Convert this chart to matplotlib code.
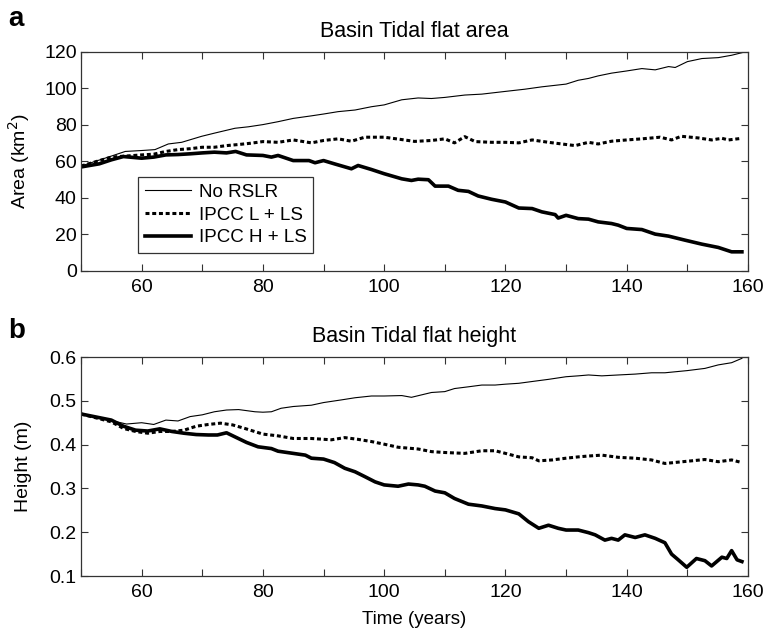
import numpy as np
import matplotlib
matplotlib.use('Agg')
import matplotlib.pyplot as plt
from matplotlib.ticker import MultipleLocator

plt.rcParams['font.family'] = ['Liberation Sans', 'DejaVu Sans']
plt.rcParams['font.size'] = 14

# panel a: tidal flat area (km2)
a_norslr_t = [50, 54.5, 57.3, 60, 62.2, 64.4, 66.6, 69.9, 72.1, 75.4, 77.6, 80, 82.5, 85, 88, 90,
              92.4, 95.2, 97.9, 100, 102.9, 105.6, 107.8, 110, 113.3, 116.1, 120, 123.2, 126, 130,
              132, 133.7, 135.3, 137.5, 140, 142.5, 144.7, 146.9, 148, 150, 152.4, 155.1, 157.3, 159]
a_norslr = [57.5, 62.4, 65.5, 66, 66.5, 69.6, 70.5, 73.8, 75.6, 78.2, 79, 80.2, 81.8, 83.6, 85, 86,
            87.3, 88.2, 90, 91, 93.8, 94.8, 94.5, 95.1, 96.4, 96.9, 98.4, 99.6, 100.9, 102.4,
            104.5, 105.5, 106.9, 108.4, 109.6, 110.9, 110.2, 112, 111.5, 114.7, 116.4, 116.9, 118.2, 119.6]

a_low_t = [50, 55, 60, 62, 64, 66, 68, 70, 72, 74, 76, 78, 80, 82.5, 85, 88, 90, 92.4, 94.6, 96.8,
           100, 102.9, 105, 107.8, 110, 111.6, 113.3, 115, 117.7, 120, 122.2, 124.4, 127.1, 130,
           131.5, 133.7, 135.3, 137.5, 140, 142.5, 145.5, 147.4, 149, 151.8, 154, 155.7, 156.8, 159]
a_low = [57.5, 62.4, 63.6, 64, 65.5, 66.5, 67, 67.8, 67.8, 68.7, 69.3, 70, 70.9, 70.5, 71.8, 70.2,
         71.5, 72.4, 71.1, 73.3, 73.3, 72, 71, 71.5, 72.4, 70.2, 73.6, 70.9, 70.5, 70.5, 70.2, 71.8,
         70.5, 69.3, 68.7, 70.5, 69.6, 71.1, 71.8, 72.4, 73.3, 71.8, 73.8, 72.9, 71.8, 72.7, 71.8, 72.7]

a_high_t = [50, 53, 55, 57, 60, 62, 64, 66, 68, 70, 72, 74, 75.5, 77.3, 80, 81.4, 82.5, 85, 87.6,
            88.6, 90, 91.8, 94.6, 95.7, 97.9, 100, 102.9, 104.5, 105.6, 107.3, 108.4, 110.6, 112.2,
            113.9, 115.5, 117.7, 120, 122.2, 124.4, 126, 128.2, 128.7, 130, 132, 133.7, 135.3,
            137.5, 138.6, 140, 142.5, 144.7, 146.9, 149.6, 152.4, 155.1, 157.3, 159]
a_high = [57, 58.7, 60.9, 62.7, 61.8, 62.4, 63.6, 63.8, 64.2, 64.7, 65.1, 64.7, 65.5, 63.6, 63.3,
          62.4, 63.3, 60.5, 60.5, 59.3, 60.5, 58.7, 56, 57.8, 55.6, 53.3, 50.5, 49.6, 50.3, 50,
          46.5, 46.5, 44.2, 43.6, 41.1, 39.3, 37.8, 34.5, 34.2, 32.4, 30.9, 29, 30.5, 28.7, 28.4,
          26.9, 26, 25.1, 23.3, 22.7, 20.2, 19.1, 16.9, 14.7, 12.9, 10.5, 10.5]

# panel b: tidal flat height (m)
b_norslr_t = [50, 55, 57.5, 60, 62, 64, 66, 68, 70, 72, 74, 76, 78.7, 80, 81.4, 83, 85, 88, 90,
              92.9, 95.2, 97.9, 100, 102.9, 104.5, 107.8, 110, 111.6, 113.9, 116.1, 118.3, 120,
              122.2, 124.9, 127.1, 130, 132, 133.7, 135.9, 138.6, 141.4, 144.1, 146.3, 150, 152.9,
              155.1, 157.3, 159]
b_norslr = [.470, .455, .447, .450, .446, .456, .454, .464, .468, .475, .479, .480, .475, .474,
            .475, .483, .487, .490, .496, .502, .507, .511, .511, .512, .508, .519, .521, .528,
            .532, .536, .536, .538, .540, .545, .549, .555, .557, .559, .557, .559, .561, .564,
            .564, .569, .574, .582, .587, .597]

b_low_t = [50, 55, 57, 59, 61, 63, 65, 67, 69, 71, 73, 75, 77, 80, 82.5, 85, 88, 91.3, 93.5, 95.7,
           97.9, 100, 102.3, 105.6, 107.8, 110, 113.3, 116.1, 118.3, 120, 122.2, 124.4, 125.5,
           127.7, 130, 132, 133.7, 135.9, 138.6, 141.4, 144.1, 146.3, 148.5, 150.7, 152.9, 155.1,
           157.3, 159]
b_low = [.470, .452, .437, .430, .426, .430, .430, .433, .442, .446, .449, .445, .437, .424, .420,
         .414, .414, .411, .416, .412, .407, .401, .394, .390, .384, .382, .380, .386, .386, .380,
         .372, .370, .363, .365, .369, .372, .374, .376, .371, .369, .365, .357, .360, .363, .366,
         .361, .365, .359]

b_high_t = [50, 55, 57, 59, 61, 63, 65, 67, 69, 71, 72.5, 74, 75.5, 77.3, 79.2, 81.4, 82.5, 85, 87,
            88, 90, 91.8, 93.5, 95.2, 96.8, 98.5, 100, 102.3, 104, 105.6, 106.7, 108.4, 110, 111.6,
            113.9, 116.1, 118.3, 120, 122.2, 123.8, 125.5, 127.1, 128.7, 130, 132, 133.7, 134.8,
            136.4, 137.5, 138.6, 139.7, 141.4, 143, 144.7, 146.3, 147.4, 148.5, 149.9, 151.5,
            152.9, 154, 155.7, 156.5, 157.3, 158.2, 159]
b_high = [.470, .456, .442, .433, .431, .436, .430, .426, .423, .422, .422, .427, .417, .405, .395,
          .391, .385, .380, .376, .369, .367, .359, .346, .338, .327, .315, .308, .305, .310, .308,
          .305, .294, .290, .277, .264, .260, .254, .251, .242, .224, .209, .216, .209, .205, .205,
          .199, .194, .182, .186, .182, .194, .188, .194, .186, .176, .150, .137, .120, .140, .135,
          .123, .143, .140, .158, .137, .133]

labels = ['No RSLR', 'IPCC L + LS', 'IPCC H + LS']
dot = (0, (1.3, 0.9))


def style_axes(ax):
    ax.set_xlim(50, 160)
    ax.xaxis.set_major_locator(MultipleLocator(20))
    ax.xaxis.set_minor_locator(MultipleLocator(10))
    ax.tick_params(which='both', direction='in', top=True, right=True, length=5, width=0.8,
                   color='#333333')
    ax.tick_params(axis='x', which='major', pad=6)
    ax.tick_params(axis='y', pad=3)
    for s in ax.spines.values():
        s.set_color('#333333')
        s.set_linewidth(0.9)


fig = plt.figure(figsize=(7.67, 6.33), dpi=100)

ax1 = fig.add_axes([0.1056, 0.5719, 0.8696, 0.346])
l0, = ax1.plot(a_norslr_t, a_norslr, color='k', lw=0.8)
l1, = ax1.plot(a_low_t, a_low, color='k', lw=2.2, linestyle=dot)
l2, = ax1.plot(a_high_t, a_high, color='k', lw=2.6)
style_axes(ax1)
ax1.set_ylim(0, 120)
ax1.yaxis.set_major_locator(MultipleLocator(20))
ax1.set_title('Basin Tidal flat area', fontsize=15.5, pad=10.5)
ax1.set_ylabel('Area (km$^2$)')
ax1.yaxis.set_label_coords(-0.074, 0.5)
leg = ax1.legend((l0, l1, l2), labels, loc='lower left', bbox_to_anchor=(0.0855, 0.082),
                 fancybox=False, framealpha=1, edgecolor='#333333', handlelength=2.5,
                 borderpad=0.35, labelspacing=0.3, handletextpad=0.4, borderaxespad=0,
                 fontsize=13.5)
leg.get_frame().set_linewidth(0.9)

ax2 = fig.add_axes([0.1056, 0.09, 0.8696, 0.346])
ax2.plot(b_norslr_t, b_norslr, color='k', lw=0.8)
ax2.plot(b_low_t, b_low, color='k', lw=2.2, linestyle=dot)
ax2.plot(b_high_t, b_high, color='k', lw=2.6)
style_axes(ax2)
ax2.set_ylim(0.1, 0.6)
ax2.yaxis.set_major_locator(MultipleLocator(0.1))
ax2.set_title('Basin Tidal flat height', fontsize=15.5, pad=10.5)
ax2.set_ylabel('Height (m)')
ax2.yaxis.set_label_coords(-0.074, 0.5)
ax2.set_xlabel('Time (years)', labelpad=7, fontsize=13.5)

fig.text(0.0104, 0.959, 'a', fontsize=20, fontweight='bold', va='baseline')
fig.text(0.0104, 0.466, 'b', fontsize=20, fontweight='bold', va='baseline')

fig.savefig('out.png', dpi=100)
